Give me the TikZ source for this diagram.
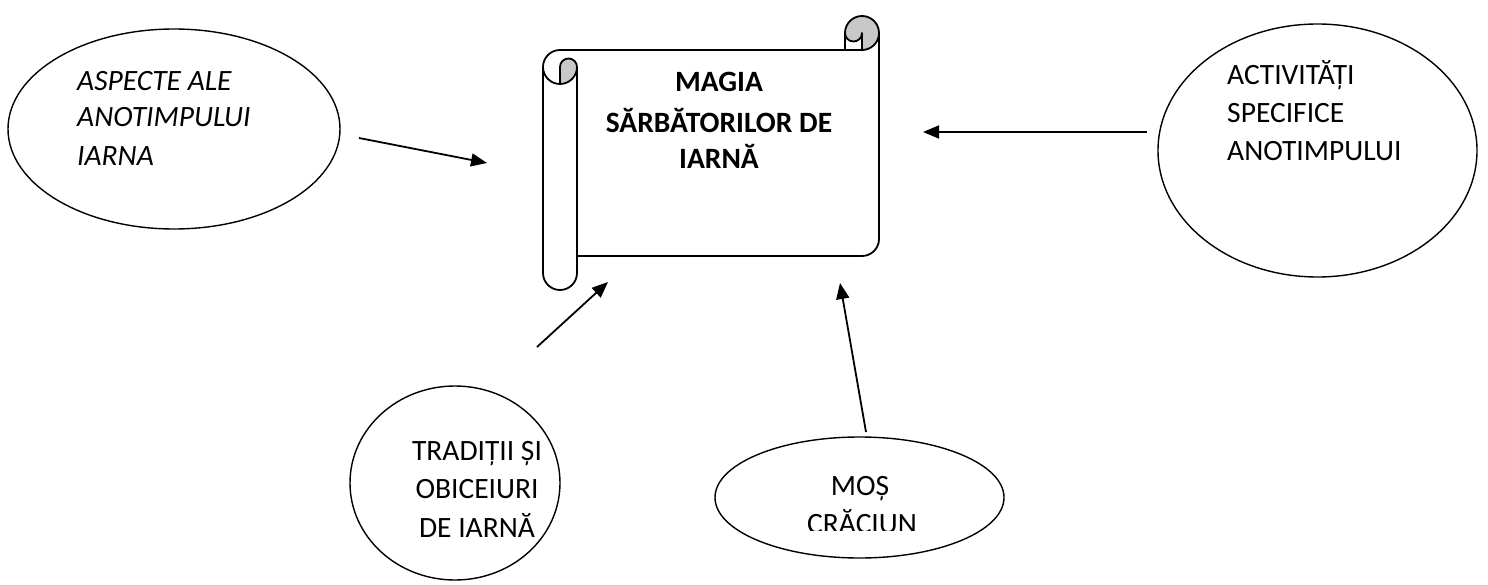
\documentclass[tikz,border=0pt]{standalone}
\usepackage{fontspec}
\setmainfont{Carlito}
\usetikzlibrary{shapes.geometric,arrows.meta}
\definecolor{rollgray}{RGB}{200,200,200}
\tikzset{
  bubble/.style={draw=black, line width=1.4pt, ellipse, inner sep=0pt},
  line/.style={font=\fontsize{29.5}{38}\selectfont, inner sep=0pt},
  ttl/.style={font=\fontsize{29.5}{38}\selectfont\bfseries, inner sep=0pt, anchor=base},
  scrollline/.style={line width=1.8pt, line join=round},
  conn/.style={line width=1.8pt, -{Triangle[length=16pt,width=13pt]}}
}
\begin{document}
\begin{tikzpicture}[x=1pt,y=-1pt]
\useasboundingbox (0,0) rectangle (1488,585);
% ellipses
\node[bubble, minimum width=332pt, minimum height=200pt] (aspecte) at (174,129) {};
\node[bubble, minimum width=319pt, minimum height=253pt] (activ) at (1317.5,150.5) {};
\node[bubble, minimum width=210pt, minimum height=194pt] (trad) at (455,483) {};
\node[bubble, minimum width=289pt, minimum height=121pt] (mos) at (859.5,497.5) {};
% scroll
\fill[rollgray] (862,50) arc[start angle=90, end angle=-180, radius=17] arc[start angle=180, end angle=0, radius=8.5] -- cycle;
\fill[rollgray] (560,84) arc[start angle=90, end angle=0, radius=17] arc[start angle=0, end angle=-180, radius=8.5] -- cycle;
\draw[scrollline] (543,67) arc[start angle=180, end angle=270, radius=17] -- (845,50) -- (845,33) arc[start angle=180, end angle=360, radius=17] -- (879,239) arc[start angle=0, end angle=90, radius=17] -- (577,256) -- (577,273) arc[start angle=0, end angle=180, radius=17] -- cycle;
\draw[scrollline] (845,50) -- (862,50) arc[start angle=90, end angle=0, radius=17];
\draw[scrollline] (862,50) -- (862,33) arc[start angle=0, end angle=180, radius=8.5];
\draw[scrollline] (560,84) -- (560,67) arc[start angle=180, end angle=360, radius=8.5] arc[start angle=0, end angle=180, radius=17];
\draw[scrollline] (577,67) -- (577,256);
% title
\node[ttl] (t1) at (719,92) {MAGIA};
\node[ttl] (t2) at (719,133) {SĂRBĂTORILOR DE};
\node[ttl] (t3) at (719,169) {IARNĂ};
% left text
\node[line, anchor=base west] (a1) at (77,91) {\itshape ASPECTE ALE};
\node[line, anchor=base west] (a2) at (77,127) {\itshape ANOTIMPULUI};
\node[line, anchor=base west] (a3) at (77,166) {\itshape IARNA};
% right text
\node[line, anchor=base west] (b1) at (1227,85) {ACTIVITĂȚI};
\node[line, anchor=base west] (b2) at (1227,123) {SPECIFICE};
\node[line, anchor=base west] (b3) at (1227,161) {ANOTIMPULUI};
% bottom left text
\node[line, anchor=base] (c1) at (477,460) {TRADIȚII ȘI};
\node[line, anchor=base] (c2) at (477,498) {OBICEIURI};
\node[line, anchor=base] (c3) at (477,537) {DE IARNĂ};
% bottom middle text (clipped)
\node[line, anchor=base] (d1) at (860,495) {MOȘ};
\begin{scope}
\clip (700,500) rectangle (1020,530);
\node[line, anchor=base] (d2) at (862,533) {CRĂCIUN};
\end{scope}
% connectors
\coordinate (s1) at (359,138); \coordinate (e1) at (487,163);
\coordinate (s2) at (1147,132); \coordinate (e2) at (923,132);
\coordinate (s3) at (537,347); \coordinate (e3) at (608,282);
\coordinate (s4) at (866,432); \coordinate (e4) at (840,283);
\draw[conn] (s1) -- (e1);
\draw[conn] (s2) -- (e2);
\draw[conn] (s3) -- (e3);
\draw[conn] (s4) -- (e4);
\end{tikzpicture}
\end{document}
